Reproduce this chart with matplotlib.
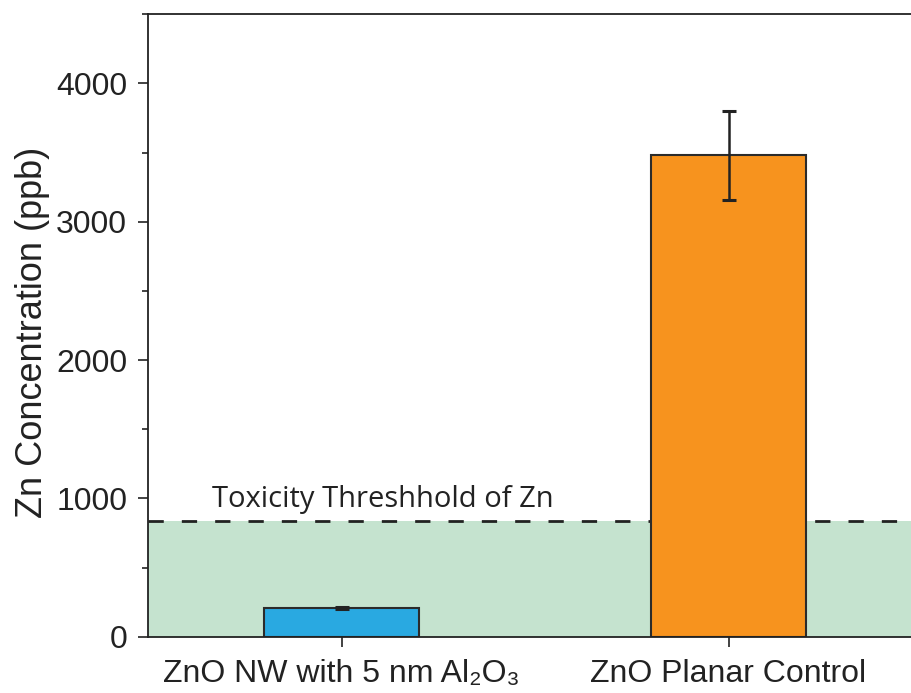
import matplotlib
matplotlib.use('Agg')
import matplotlib.pyplot as plt
from matplotlib.ticker import MultipleLocator

# data
samples = ['ZnO NW with 5 nm Al\u2082O\u2083', 'ZnO Planar Control']
conc = [205, 3480]
conc_err = [8, 320]
bar_colors = ['#29A9E1', '#F7931E']
threshold = 836
threshold_label = 'Toxicity Threshhold of Zn'

plt.rcParams['font.family'] = ['Liberation Sans', 'DejaVu Sans']

fig = plt.figure(figsize=(9.12, 6.93), dpi=100)
# right edge of the axes runs past the picture, as in the reference
ax = fig.add_axes([148/912, (693-636.7)/693, (922-148)/912, (636.7-14.3)/693])

x = [1, 2]
ax.axhspan(0, threshold, color='#C5E3CF', zorder=0, lw=0)
ax.axhline(threshold, color='#222222', lw=2.0, linestyle=(0, (5.5, 6.5)), zorder=1)
ax.bar(x, conc, width=0.4, color=bar_colors, edgecolor='#2b2b2b', linewidth=1.5, zorder=2)
ax.errorbar(x, conc, yerr=conc_err, fmt='none', ecolor='#222222', elinewidth=1.8,
            capsize=5, capthick=2.2, zorder=3)
ax.text(0.666, 939, threshold_label, fontsize=21, family=['Open Sans', 'DejaVu Sans'],
        color='#222222', ha='left', va='baseline', zorder=4)

ax.set_xlim(0.5, 2.5)
ax.set_ylim(0, 4500)
ax.set_xticks(x)
ax.set_xticklabels(samples)
ax.yaxis.set_major_locator(MultipleLocator(1000))
ax.yaxis.set_minor_locator(MultipleLocator(500))
ax.set_ylabel('Zn Concentration (ppb)', fontsize=26, color='#222222')
ax.yaxis.set_label_coords(-0.127, 0.489)

for s in ['left', 'top', 'bottom']:
    ax.spines[s].set_linewidth(1.3)
    ax.spines[s].set_color('#222222')
ax.spines['right'].set_visible(False)
ax.tick_params(axis='both', which='major', direction='out', length=7, width=1.2,
               labelsize=23, colors='#222222')
ax.tick_params(axis='x', pad=9)
ax.tick_params(axis='y', pad=8)
ax.tick_params(axis='y', which='minor', direction='out', length=4, width=1.2, colors='#222222')

plt.savefig('out.png', dpi=100)
